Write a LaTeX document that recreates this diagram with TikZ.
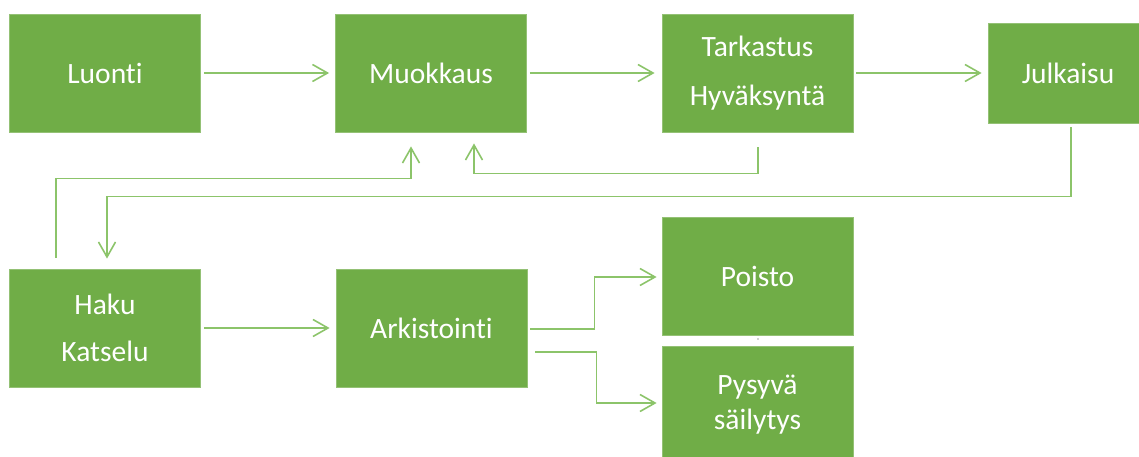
\documentclass[tikz,border=0pt]{standalone}
\usepackage{fontspec}
\setmainfont{Carlito}[RawFeature={-liga}]
\usetikzlibrary{arrows.meta,calc}
\definecolor{boxgreen}{HTML}{70AD47}
\definecolor{linegreen}{HTML}{8CC46A}
\begin{document}
\begin{tikzpicture}[x=1pt,y=-1pt,
  box/.style={fill=boxgreen, draw=boxgreen!75!white, line width=0.8pt, text=white,
    minimum width=191pt, minimum height=118pt, inner sep=0pt, align=center,
    font=\fontsize{29.5}{35}\selectfont},
  conn/.style={draw=linegreen, line width=1.6pt,
    -{Straight Barb[length=15pt,width=17pt,line width=1.6pt]}},
  plain/.style={draw=linegreen, line width=1.6pt}]
\useasboundingbox (0,0) rectangle (1139,457);
\node[box] (luonti) at (105,73) {Luonti};
\node[box] (muok) at (431,73) {Muokkaus};
\node[box] (tark) at (757.5,73) {Tarkastus\\[14pt]Hyväksyntä};
\node[box, minimum width=160pt, minimum height=100pt] (julk) at (1068,73) {Julkaisu};
\node[box] (haku) at (105,328) {Haku\\[12pt]Katselu};
\node[box] (ark) at (431.5,328) {Arkistointi};
\node[box] (poisto) at (757.5,276) {Poisto};
\node[box] (pys) at (757.5,405) {Pysyvä\\säilytys};
\fill[gray!70] (758,339) circle (0.8pt);
% top row
\draw[conn] ([xshift=3pt]luonti.east) -- ([xshift=-6pt]muok.west);
\draw[conn] ([xshift=3pt]muok.east) -- ([xshift=-7pt]tark.west);
\draw[conn] ([xshift=3pt]tark.east) -- ([xshift=-6pt]julk.west|-tark.east);
% feedback from Tarkastus to Muokkaus
\draw[conn] ($(tark.south)+(0.5,15)$) -- ($(tark.south)+(0.5,41)$) -| ($(muok.south)+(43,11)$);
% Haku to Muokkaus
\draw[conn] ($(haku.north)+(-49,-11)$) |- ($(muok.south)+(-20,46)$) -- ($(muok.south)+(-20,14)$);
% Julkaisu to Haku
\draw[conn] ($(julk.south)+(3,4)$) |- ($(haku.north)+(2,-72)$) -- ($(haku.north)+(2,-10)$);
% bottom row
\draw[conn] ([xshift=3pt]haku.east) -- ([xshift=-6pt]ark.west);
\draw[conn] ($(ark.east)+(3,1)$) -| ($(poisto.west)+(-67,1)$) -- ($(poisto.west)+(-5,1)$);
\draw[conn] ($(ark.east)+(8,24)$) -| ($(pys.west)+(-65,-2)$) -- ($(pys.west)+(-5,-2)$);
\end{tikzpicture}
\end{document}
